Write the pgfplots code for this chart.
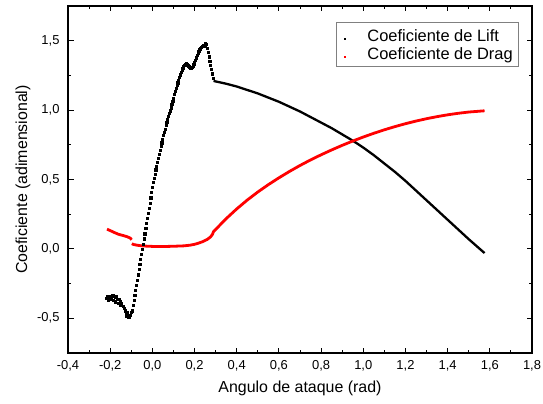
\documentclass[border=0pt]{standalone}
\usepackage{fontspec}
\setmainfont{Liberation Sans}
\usepackage{pgfplots}
\pgfplotsset{compat=1.18}

\begin{document}
\begin{tikzpicture}
\path[use as bounding box] (-68bp,-51bp) rectangle (475bp,353bp);
\begin{axis}[
  scale only axis, width=464bp, height=347bp,
  at={(0,0)}, anchor=south west,
  xmin=-0.4, xmax=1.8, ymin=-0.75, ymax=1.75,
  xtick={-0.4,-0.2,0,0.2,0.4,0.6,0.8,1.0,1.2,1.4,1.6,1.8},
  ytick={-0.5,0,0.5,1.0,1.5},
  minor x tick num=1, minor y tick num=1,
  tick align=inside,
  major tick length=5.5bp, minor tick length=3bp,
  every tick/.style={black, line width=1bp},
  axis line style={black, line width=1.2bp},
  xticklabel shift=4bp, yticklabel shift=5bp,
  /pgf/number format/use comma,
  /pgf/number format/fixed,
  /pgf/number format/fixed zerofill,
  /pgf/number format/precision=1,
  /pgf/number format/assume math mode=true,
  ticklabel style={font=\fontsize{13}{13}\selectfont},
  xlabel={Angulo de ataque (rad)},
  ylabel={Coeficiente (adimensional)},
  xlabel style={at={(axis description cs:0.5,-0.101)}, anchor=center, font=\fontsize{16}{16}\selectfont},
  ylabel style={at={(axis description cs:-0.097,0.5)}, anchor=center, font=\fontsize{16}{16}\selectfont},
  legend style={at={(axis description cs:0.972,0.954)}, anchor=north east,
    draw=gray, line width=0.6bp, font=\fontsize{16.5}{16.5}\selectfont,
    inner xsep=5bp, inner ysep=4bp, row sep=0.3bp,
    nodes={inner sep=1bp, text height=14bp, text depth=2bp}},
  legend cell align=left,
]

% Lift: scattered samples (low and moderate angles)
\addplot[only marks, mark=square*, mark size=1.1bp, black, mark options={draw=none},
  legend image code/.code={\path[draw=none, fill=none] (0,0) -- (25bp,0);
    \fill[black, draw=none] (4bp-1bp,-4.5bp) rectangle ++(2bp,2bp);}]
coordinates {
(-0.218,-0.358) (-0.212,-0.345) (-0.206,-0.350) (-0.200,-0.338) (-0.194,-0.345)
(-0.188,-0.332) (-0.182,-0.340) (-0.176,-0.350) (-0.170,-0.345) (-0.165,-0.360)
(-0.158,-0.365) (-0.152,-0.380) (-0.146,-0.395) (-0.140,-0.415) (-0.134,-0.430)
(-0.128,-0.445) (-0.122,-0.460) (-0.117,-0.480) (-0.112,-0.490) (-0.106,-0.478)
(-0.100,-0.458)
(-0.210,-0.372) (-0.198,-0.365) (-0.186,-0.372) (-0.175,-0.380) (-0.163,-0.392)
(-0.150,-0.405) (-0.124,-0.485) (-0.118,-0.470)
(-0.096,-0.445) (-0.092,-0.405) (-0.088,-0.370) (-0.084,-0.334) (-0.080,-0.297)
(-0.076,-0.260) (-0.072,-0.223) (-0.068,-0.186) (-0.064,-0.149) (-0.060,-0.112)
(-0.056,-0.075) (-0.052,-0.038) (-0.048,-0.001) (-0.044,0.036) (-0.040,0.073)
(-0.036,0.110) (-0.032,0.147) (-0.028,0.184) (-0.024,0.221) (-0.020,0.258)
(-0.016,0.295) (-0.012,0.332) (-0.008,0.369) (-0.004,0.406) (0.000,0.443)
(0.004,0.478) (0.008,0.510) (0.012,0.540) (0.016,0.570) (0.020,0.598)
(0.024,0.626) (0.028,0.654) (0.032,0.682) (0.036,0.710) (0.040,0.738)
(0.044,0.765) (0.048,0.792) (0.052,0.817) (0.056,0.841) (0.060,0.865)
(0.064,0.889) (0.068,0.912) (0.072,0.934) (0.076,0.955) (0.080,0.975)
(0.084,0.996) (0.088,1.018) (0.092,1.040) (0.096,1.064) (0.100,1.088)
(0.104,1.112) (0.108,1.134) (0.112,1.156) (0.116,1.177) (0.120,1.197)
(0.124,1.217) (0.128,1.236) (0.132,1.255) (0.136,1.273) (0.140,1.290)
(0.144,1.304) (0.148,1.316) (0.152,1.326) (0.156,1.333) (0.160,1.336)
(0.164,1.333) (0.168,1.326) (0.172,1.316) (0.176,1.307) (0.180,1.302)
(0.184,1.303) (0.188,1.309) (0.192,1.318) (0.196,1.331) (0.200,1.346)
(0.204,1.362) (0.208,1.378) (0.212,1.394) (0.216,1.410) (0.220,1.425)
(0.224,1.437) (0.228,1.447) (0.232,1.455) (0.236,1.462) (0.240,1.468)
(0.244,1.460) (0.248,1.466) (0.252,1.478) (0.256,1.474) (0.260,1.445)
(0.264,1.415) (0.268,1.385) (0.272,1.355) (0.276,1.325) (0.280,1.295)
(0.284,1.262) (0.288,1.232)
};
\addlegendentry{Coeficiente de Lift}

% Lift: dense samples after stall
\addplot[black, line width=2.3bp, line join=round, forget plot]
coordinates {
(0.29,1.21) (0.35,1.19) (0.40,1.17) (0.45,1.145) (0.50,1.12) (0.55,1.09)
(0.60,1.06) (0.65,1.025) (0.70,0.99) (0.75,0.95) (0.80,0.91) (0.85,0.87)
(0.90,0.825) (0.95,0.78) (1.00,0.73) (1.05,0.675) (1.10,0.615) (1.15,0.555)
(1.20,0.49) (1.25,0.42) (1.30,0.35) (1.35,0.28) (1.40,0.21) (1.45,0.14)
(1.50,0.07) (1.575,-0.03)
};

% Drag coefficient (two branches)
\addplot[red, line width=2.8bp, line join=round,
  legend image code/.code={\path[draw=none, fill=none] (0,0) -- (25bp,0);
    \fill[red, draw=none] (4bp-1bp,-4.5bp) rectangle ++(2bp,2bp);}]
coordinates {
(-0.215,0.142) (-0.20,0.132) (-0.18,0.118) (-0.16,0.105) (-0.14,0.097)
(-0.12,0.088) (-0.105,0.078) (-0.098,0.066)
};
\addlegendentry{Coeficiente de Drag}

\addplot[red, line width=2.8bp, line join=round, forget plot]
coordinates {
(-0.097,0.038) (-0.09,0.032) (-0.07,0.026) (-0.05,0.022) (-0.03,0.020)
(0.00,0.018) (0.05,0.017) (0.10,0.019) (0.15,0.022) (0.18,0.027)
(0.20,0.033) (0.22,0.042) (0.24,0.053) (0.26,0.068) (0.275,0.085)
(0.285,0.105) (0.29,0.125) (0.30,0.140) (0.35,0.218) (0.40,0.288)
(0.45,0.352) (0.50,0.410) (0.55,0.463) (0.60,0.512) (0.65,0.558)
(0.70,0.601) (0.75,0.641) (0.80,0.678) (0.85,0.713) (0.90,0.746)
(0.95,0.777) (1.00,0.806) (1.05,0.833) (1.10,0.858) (1.15,0.881)
(1.20,0.902) (1.25,0.921) (1.30,0.938) (1.35,0.953) (1.40,0.966)
(1.45,0.977) (1.50,0.986) (1.575,0.995)
};
\end{axis}
\end{tikzpicture}
\end{document}
